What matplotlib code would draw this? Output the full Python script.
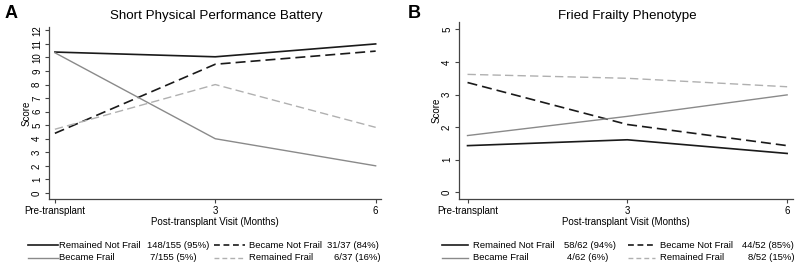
import matplotlib
matplotlib.use("Agg")
import matplotlib.pyplot as plt
from matplotlib.lines import Line2D

plt.rcParams['font.family'] = ['Liberation Sans', 'DejaVu Sans']

visits = [0, 3, 6]
visit_labels = ["Pre-transplant", "3", "6"]

# Panel A: Short Physical Performance Battery
spp_remained_not_frail = [10.4, 10.05, 11.0]
spp_became_not_frail = [4.4, 9.5, 10.47]
spp_became_frail = [10.35, 4.0, 2.0]
spp_remained_frail = [4.7, 8.0, 4.84]
spp_counts = ["148/155 (95%)", "31/37 (84%)", "7/155 (5%)", "6/37 (16%)"]

# Panel B: Fried Frailty Phenotype
ffp_remained_not_frail = [1.43, 1.61, 1.19]
ffp_became_not_frail = [3.37, 2.08, 1.43]
ffp_became_frail = [1.74, 2.33, 2.99]
ffp_remained_frail = [3.62, 3.5, 3.24]
ffp_counts = ["58/62 (94%)", "44/52 (85%)", "4/62 (6%)", "8/52 (15%)"]

group_names = ["Remained Not Frail", "Became Not Frail", "Became Frail", "Remained Frail"]

BLACK = "#1a1a1a"
GRAY = "#8a8a8a"
LGRAY = "#b0b0b0"
AXC = "#444444"
styles = [
    dict(color=BLACK, ls="-", lw=1.2),
    dict(color=BLACK, ls=(0, (6, 3)), lw=1.2),
    dict(color=GRAY, ls="-", lw=1.0),
    dict(color=LGRAY, ls=(0, (6, 3)), lw=1.0),
]

W, H = 800, 271
fig = plt.figure(figsize=(8, 2.71), dpi=100)

def px_axes(x0, x1, ytop, ybot):
    return fig.add_axes([x0 / W, 1 - ybot / H, (x1 - x0) / W, (ybot - ytop) / H])

def style_ax(ax, yticks, ylim, xlim):
    for s in ["top", "right"]:
        ax.spines[s].set_visible(False)
    for s in ["left", "bottom"]:
        ax.spines[s].set_color(AXC)
        ax.spines[s].set_linewidth(0.9)
    ax.set_xlim(*xlim)
    ax.set_ylim(*ylim)
    ax.set_xticks(visits)
    ax.set_xticklabels(visit_labels, fontsize=7)
    ax.set_yticks(yticks)
    ax.set_yticklabels([str(t) for t in yticks], fontsize=7, rotation=90, va="center")
    ax.tick_params(axis="both", length=3, width=0.8, color=AXC, pad=2)
    ax.set_ylabel("Score", fontsize=7, labelpad=0)
    ax.set_xlabel("Post-transplant Visit (Months)", fontsize=7, labelpad=1)

# Panel A
axA = px_axes(49, 381, 27, 199)
seriesA = [spp_remained_not_frail, spp_became_not_frail, spp_became_frail, spp_remained_frail]
for vals, st in zip(seriesA, styles):
    axA.plot(visits, vals, **st)
style_ax(axA, list(range(0, 13)), (-0.45, 12.25), (-0.11, 6.1))

# Panel B
axB = px_axes(459, 793, 22, 199)
seriesB = [ffp_remained_not_frail, ffp_became_not_frail, ffp_became_frail, ffp_remained_frail]
for vals, st in zip(seriesB, styles):
    axB.plot(visits, vals, **st)
style_ax(axB, list(range(0, 6)), (-0.21, 5.23), (-0.16, 6.11))

fig.text(216 / W, 1 - 16 / H, "Short Physical Performance Battery", fontsize=9.6, ha="center", va="center")
fig.text(627 / W, 1 - 16 / H, "Fried Frailty Phenotype", fontsize=9.6, ha="center", va="center")

fig.text(5 / W, 1 - 14 / H, "A", fontsize=13, fontweight="bold", va="center", ha="left")
fig.text(408 / W, 1 - 14 / H, "B", fontsize=13, fontweight="bold", va="center", ha="left")

def legend(lines, texts, count_x, counts):
    rows = [245, 258]
    # group index, column, row
    order = [(0, 0, 0), (1, 1, 0), (2, 0, 1), (3, 1, 1)]
    for k, (gi, col, row) in enumerate(order):
        y = 1 - rows[row] / H
        l0, l1 = lines[col]
        st = styles[gi]
        ls = st["ls"] if gi % 2 == 0 else (0, (3.5, 2.2))
        fig.add_artist(Line2D([l0 / W, l1 / W], [y, y], transform=fig.transFigure,
                              color=st["color"], ls=ls, lw=st["lw"]))
        fig.text(texts[col] / W, y, group_names[gi], fontsize=6.8, va="center", ha="left")
        fig.text(count_x[k] / W, y, counts[gi], fontsize=6.8, va="center", ha="center")

legend([(28, 58), (214, 245)], [59, 249], [178, 353, 173, 357], spp_counts)
legend([(442, 468), (628, 655)], [473, 660], [590, 768, 588, 771], ffp_counts)

fig.savefig("out.png", dpi=100)
